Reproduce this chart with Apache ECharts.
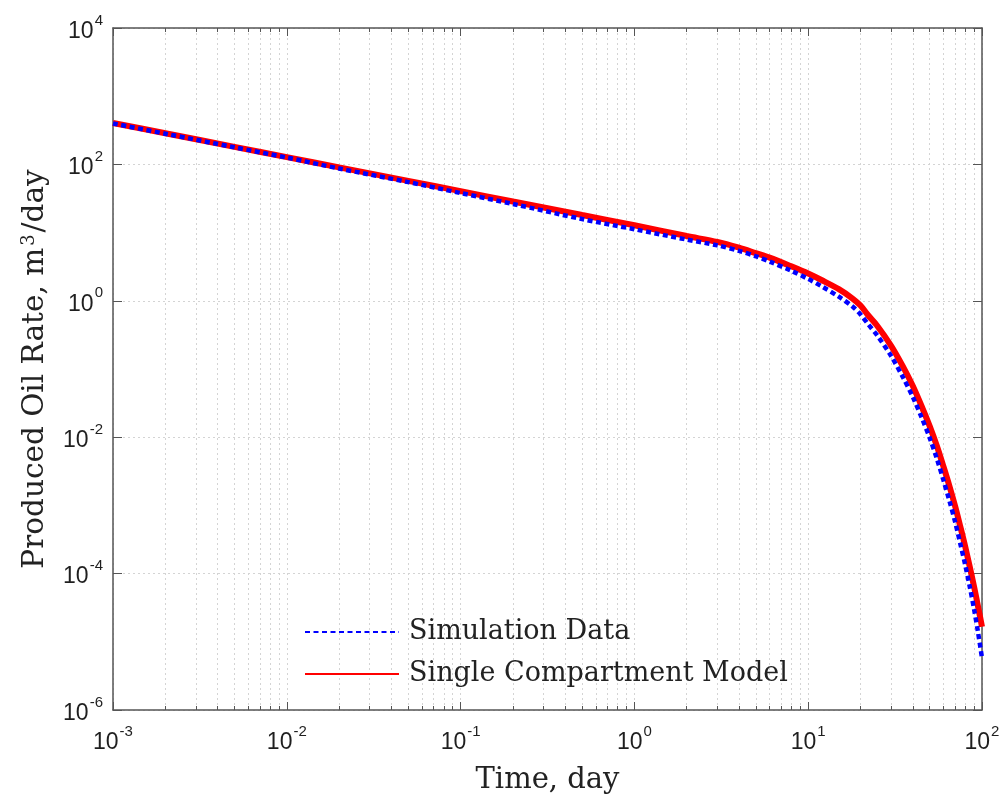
<!DOCTYPE html>
<html>
<head>
<meta charset="utf-8">
<title>Produced Oil Rate</title>
<script src="https://cdn.jsdelivr.net/npm/echarts@6/dist/echarts.min.js"></script>
<style>
  html, body { margin: 0; padding: 0; background: #fff; }
  #main { width: 1004px; height: 802px; }
</style>
</head>
<body>
<div id="main"></div>
<script>
// time, day
var timeDays = [0.001, 0.002, 0.005, 0.01, 0.02, 0.05, 0.1, 0.2, 0.5, 1, 2, 3, 4, 5, 6, 8, 10, 12, 15, 18,
  20, 22, 25, 30, 35, 40, 45, 50, 55, 60, 65, 70, 75, 80, 85, 90, 95, 100];
// produced oil rate, m3/day
var simulationRate = [398, 282, 178, 126, 87, 55, 38, 26.3, 15.8, 11.2, 7.9, 6.5, 5.4, 4.5, 3.76, 2.75, 2.09, 1.62, 1.15, 0.822,
  0.631, 0.462, 0.309, 0.155, 0.0767, 0.0389, 0.0193, 0.00977, 0.00484, 0.00234, 0.00116, 0.000575, 0.000275, 0.000135, 0.0000646, 0.0000302, 0.0000135, 0.0000058];
var modelRate = [405, 286, 181, 128, 90.4, 57.3, 40.5, 28.6, 18.1, 12.8, 8.9, 7.3, 6.0, 5.0, 4.3, 3.2, 2.51, 2.0, 1.48, 1.08,
  0.851, 0.624, 0.427, 0.219, 0.110, 0.0562, 0.0282, 0.0145, 0.00741, 0.00372, 0.00191, 0.000977, 0.00049, 0.000251, 0.000126, 0.0000646, 0.0000324, 0.0000166];

var seriesNames = ['Simulation Data', 'Single Compartment Model'];

function pairs(ys) {
  return timeDays.map(function (t, i) { return [t, ys[i]]; });
}

// 10^n labels
function powLabel(v) {
  var e = Math.round(Math.log(v) / Math.LN10);
  return '{b|10}{s|' + e + '}';
}
var labelRich = {
  b: { fontFamily: 'Liberation Sans', fontSize: 23, color: '#1f1f1f', lineHeight: 30, verticalAlign: 'bottom' },
  s: { fontFamily: 'Liberation Sans', fontSize: 15, color: '#1f1f1f', lineHeight: 30, verticalAlign: 'top', padding: [0, 0, 0, 1] }
};

var axisColor = '#555';
var gridLine = { show: true, lineStyle: { color: '#d4d4d4', width: 1, type: [2, 3] } };

var myChart = echarts.init(document.getElementById('main'));

var option = {
  backgroundColor: '#fff',
  animation: false,
  grid: { left: 113, right: 22, top: 28, bottom: 92, outerBoundsMode: 'none', show: false },
  legend: {
    data: seriesNames,
    orient: 'vertical',
    left: 299,
    top: 613,
    itemWidth: 94,
    itemHeight: 14,
    itemGap: 14,
    itemStyle: { opacity: 0 },
    textStyle: { fontFamily: 'DejaVu Serif', fontSize: 27, color: '#222', lineHeight: 28, padding: [0, 0, 0, 5] }
  },
  xAxis: [
    {
      type: 'log', logBase: 10, min: 0.001, max: 100, splitNumber: 5,
      position: 'bottom',
      axisLine: { show: true, lineStyle: { color: axisColor, width: 1.5 } },
      axisTick: { show: true, inside: true, length: 8, lineStyle: { color: axisColor } },
      minorTick: { show: true, splitNumber: 9, length: 4, lineStyle: { color: axisColor } },
      splitLine: gridLine,
      minorSplitLine: gridLine,
      axisLabel: { formatter: powLabel, rich: labelRich, margin: 14 },
      name: 'Time, day',
      nameLocation: 'middle',
      nameGap: 56,
      nameTextStyle: { fontFamily: 'DejaVu Serif', fontSize: 29, color: '#222' }
    },
    {
      type: 'log', logBase: 10, min: 0.001, max: 100, splitNumber: 5,
      position: 'top',
      axisLine: { show: true, lineStyle: { color: axisColor, width: 1.5 } },
      axisTick: { show: true, inside: true, length: 8, lineStyle: { color: axisColor } },
      minorTick: { show: true, splitNumber: 9, length: 4, lineStyle: { color: axisColor } },
      splitLine: { show: false },
      axisLabel: { show: false }
    }
  ],
  yAxis: [
    {
      type: 'log', logBase: 10, min: 0.000001, max: 10000, interval: 2,
      position: 'left',
      axisLine: { show: true, lineStyle: { color: axisColor, width: 1.5 } },
      axisTick: { show: true, inside: true, length: 9, lineStyle: { color: axisColor } },
      splitLine: gridLine,
      axisLabel: { formatter: powLabel, rich: labelRich, margin: 10 },
      name: 'Produced Oil Rate, m{sup|3}/day',
      nameLocation: 'middle',
      nameGap: 63,
      nameTextStyle: {
        fontFamily: 'DejaVu Serif', fontSize: 29.5, color: '#222',
        rich: { sup: { fontFamily: 'DejaVu Serif', fontSize: 18, color: '#222', verticalAlign: 'top', padding: [0, 2, 0, 2] } }
      }
    },
    {
      type: 'log', logBase: 10, min: 0.000001, max: 10000, interval: 2,
      position: 'right',
      axisLine: { show: true, lineStyle: { color: axisColor, width: 1.5 } },
      axisTick: { show: true, inside: true, length: 9, lineStyle: { color: axisColor } },
      splitLine: { show: false },
      axisLabel: { show: false }
    }
  ],
  series: [
    {
      name: seriesNames[1],
      type: 'line',
      data: pairs(modelRate),
      symbol: 'none',
      smooth: 0.3,
      lineStyle: { color: '#ff0000', width: 6 },
      itemStyle: { color: '#ff0000' },
      z: 3
    },
    {
      name: seriesNames[0],
      type: 'line',
      data: pairs(simulationRate),
      symbol: 'none',
      smooth: 0.3,
      lineStyle: { color: '#0000ff', width: 4.5, type: [5, 3.5] },
      itemStyle: { color: '#0000ff' },
      z: 4
    }
  ]
};

myChart.setOption(option);
</script>
</body>
</html>
